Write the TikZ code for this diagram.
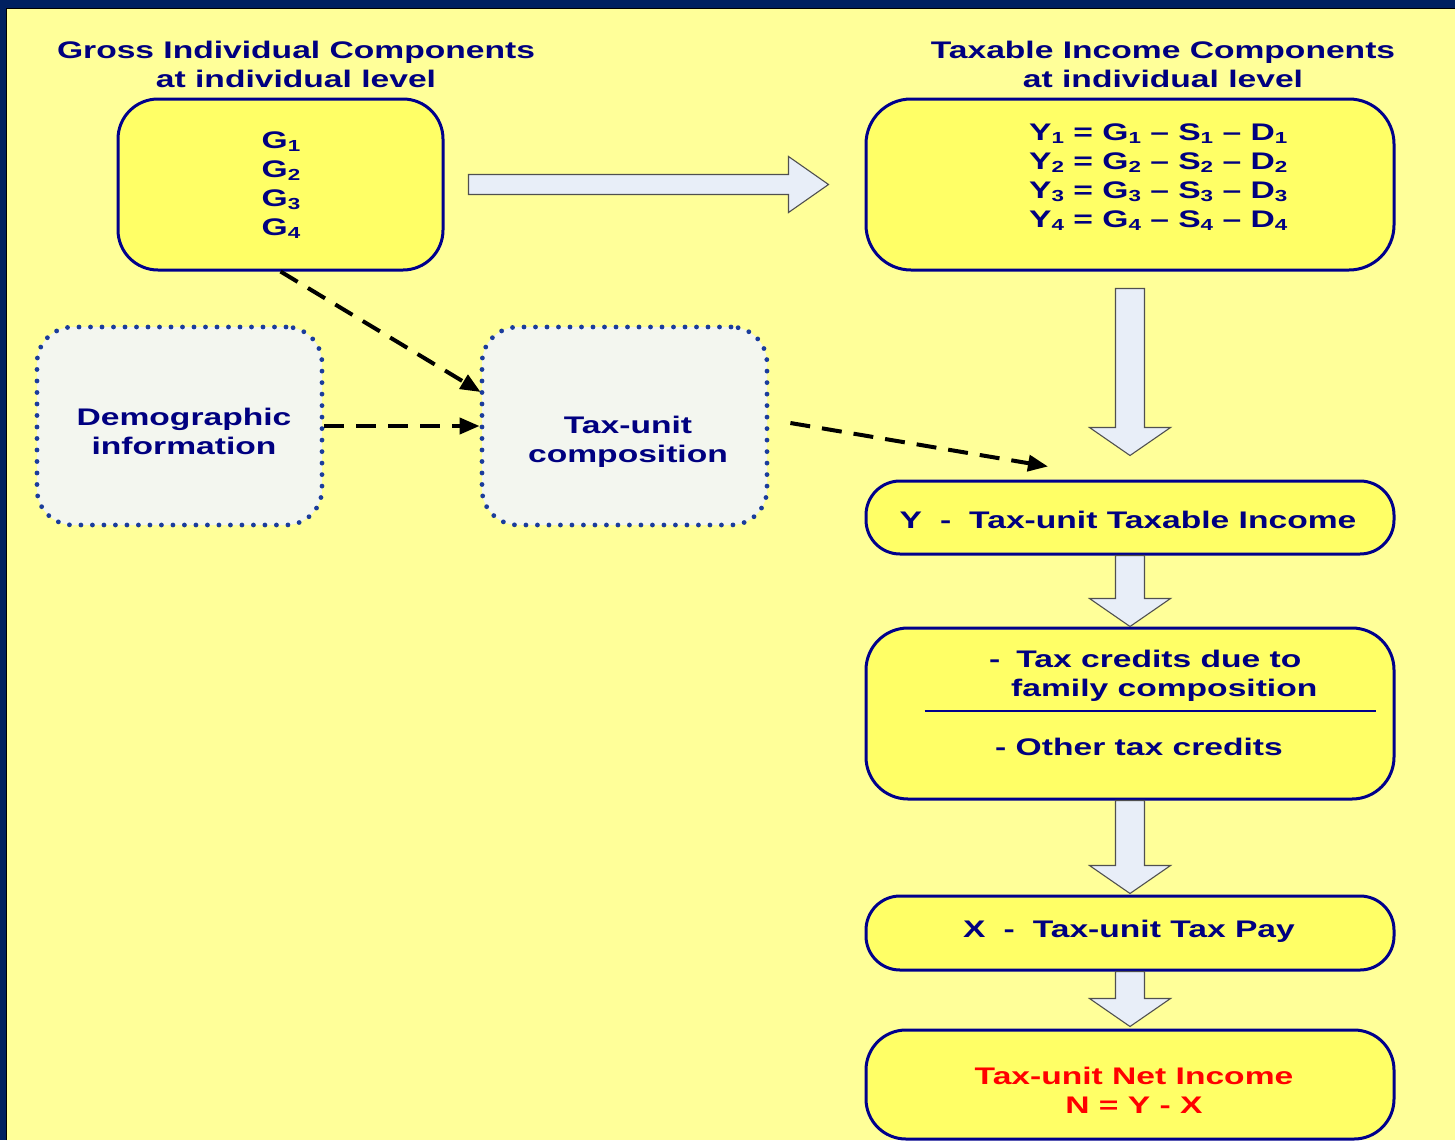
\documentclass[tikz,border=0pt]{standalone}
\usepackage{fontspec}
\newfontfamily\widesans[FakeStretch=1.4,Ligatures=TeX]{Liberation Sans}
\usetikzlibrary{arrows.meta,calc}
\definecolor{bgyellow}{HTML}{FFFF99}
\definecolor{boxyellow}{HTML}{FFFF66}
\definecolor{framenavy}{HTML}{002060}
\definecolor{txtnavy}{HTML}{000080}
\definecolor{boxline}{HTML}{00008C}
\definecolor{dotline}{HTML}{1A3C9C}
\definecolor{dotfill}{HTML}{F3F6EF}
\definecolor{arrfill}{HTML}{E8EEF8}
\definecolor{arrline}{HTML}{505050}
\newcommand\subn[1]{\raisebox{-3.5pt}{\fontsize{16}{16}\selectfont #1}}
\newcommand\vblock[4]{% from node #1 to node #2, start gap #3, end gap #4
  \draw[blockarr] let \p1=(#1.south), \p2=(#2.north) in
   (\x1-14.5pt,\y1-#3) -- (\x1+14.5pt,\y1-#3) -- (\x1+14.5pt,\y2+#4+28pt)
   -- (\x1+40.5pt,\y2+#4+28pt) -- (\x1,\y2+#4) -- (\x1-40.5pt,\y2+#4+28pt)
   -- (\x1-14.5pt,\y2+#4+28pt) -- cycle;}
\tikzset{
  rbox/.style={draw=boxline, line width=3pt, fill=boxyellow, rounded corners=#1},
  rbox/.default=40pt,
  dbox/.style={draw=dotline, line width=4.8pt, fill=dotfill, rounded corners=36pt,
    dash pattern=on 0pt off 11.5pt, line cap=round},
  txt/.style={text=txtnavy, font=\widesans\bfseries\fontsize{24}{29}\selectfont, align=center, inner sep=0pt},
  blockarr/.style={draw=arrline, line width=1.1pt, fill=arrfill},
  dasharr/.style={draw=black, line width=4pt, dash pattern=on 20pt off 12pt,
    -{Triangle[length=20pt,width=16pt]}},
}
\begin{document}
\begin{tikzpicture}[x=1pt,y=-1pt]
\useasboundingbox (0,0) rectangle (1455,1140);
\clip (0,0) rectangle (1455,1140);
\fill[bgyellow] (0,0) rectangle (1455,1140);
\fill[framenavy] (0,0) rectangle (1455,8);
\fill[framenavy] (0,0) rectangle (6,1140);
\draw[black, line width=1.5pt] (6.5,1140) -- (6.5,8.5) -- (1455,8.5);

% titles
\node[txt] (t1) at (296,64) {Gross Individual Components\\at individual level};
\node[txt] (t2) at (1163,64) {Taxable Income Components\\at individual level};

% boxes
\node[rbox, minimum width=325pt, minimum height=171pt] (gb) at (280.5,184.5) {};
\node[rbox=45pt, minimum width=528pt, minimum height=171pt] (yb) at (1130,184.5) {};
\node[dbox, minimum width=285pt, minimum height=198pt] (demo) at (179.5,426) {};
\node[dbox, minimum width=285pt, minimum height=198pt] (tu) at (624.5,426) {};
\node[rbox=34pt, minimum width=528pt, minimum height=73pt] (yt) at (1130,517.5) {};
\node[rbox=42pt, minimum width=528pt, minimum height=171pt] (cr) at (1130,713.5) {};
\node[rbox=34pt, minimum width=528pt, minimum height=74pt] (xt) at (1130,933) {};
\node[rbox=40pt, minimum width=528pt, minimum height=109pt] (nt) at (1130,1084.5) {};

% texts
\node[txt] (gtx) at (281,185) {G\subn{1}\\G\subn{2}\\G\subn{3}\\G\subn{4}};
\node[txt, align=left, anchor=west] (ytx) at (1029,177)
  {Y\subn{1} = G\subn{1} – S\subn{1} – D\subn{1}\\
   Y\subn{2} = G\subn{2} – S\subn{2} – D\subn{2}\\
   Y\subn{3} = G\subn{3} – S\subn{3} – D\subn{3}\\
   Y\subn{4} = G\subn{4} – S\subn{4} – D\subn{4}};
\node[txt] (demotx) at (184,431) {Demographic\\information};
\node[txt] (tutx) at (628,441.5) {Tax-unit\\composition};
\node[txt] (yttx) at (1128,520) {Y\hspace{18pt}-\hspace{18pt}Tax-unit Taxable Income};
\node[txt, align=left, anchor=west] (crtx1) at (989,675.5)
  {-\hspace{16pt}Tax credits due to\\\hspace*{22pt}family composition};
\node[txt] (crtx2) at (1139,747) {- Other tax credits};
\draw[boxline, line width=2pt] ($(cr.west)+(60,-2.5)$) coordinate (crl) -- ($(cr.east)+(-20,-2.5)$) coordinate (crr);
\node[txt] (xttx) at (1129,931) {X\hspace{18pt}-\hspace{18pt}Tax-unit Tax Pay};
\node[txt, text=red] (nttx) at (1134,1090) {Tax-unit Net Income\\N = Y - X};

% horizontal block arrow
\draw[blockarr] let \p1=(gb.east), \p2=(yb.west) in
  (\x1+24pt,\y1+10pt) -- (\x2-76pt,\y1+10pt) -- (\x2-76pt,\y1+28pt) -- (\x2-36pt,\y1)
  -- (\x2-76pt,\y1-28pt) -- (\x2-76pt,\y1-10pt) -- (\x1+24pt,\y1-10pt) -- cycle;

% vertical block arrows
\vblock{yb}{yt}{17pt}{24pt}
\vblock{yt}{cr}{0pt}{0pt}
\vblock{cr}{xt}{0pt}{1pt}
\vblock{xt}{nt}{0pt}{2pt}

% dashed arrows
\draw[dasharr] (gb.south) -- ($(tu.west)+(1,-34)$);
\draw[dasharr] (demo.east) -- (tu.west);
\draw[dasharr] ($(tu.east)+(21,-3)$) -- ($(yt.north)+(-82,-13)$);
\end{tikzpicture}
\end{document}
